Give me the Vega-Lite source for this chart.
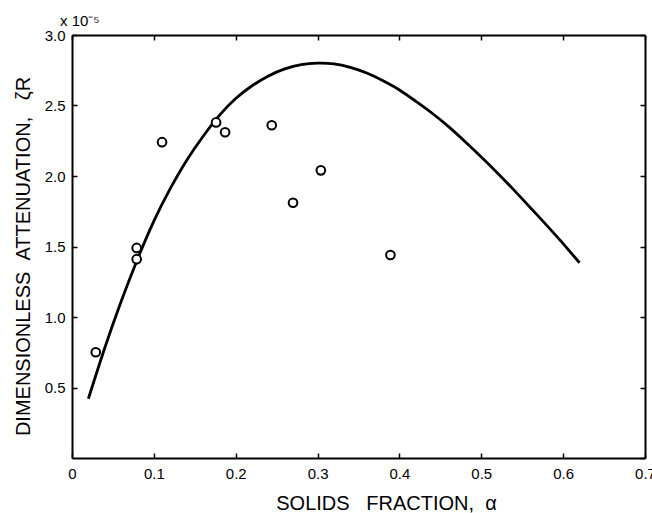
{
  "$schema": "https://vega.github.io/schema/vega-lite/v6.json",
  "width": 573,
  "height": 423,
  "autosize": {"type": "none"},
  "padding": {"left": 72, "top": 35, "right": 7, "bottom": 55},
  "background": "white",
  "config": {
    "view": {"stroke": null},
    "font": "Liberation Sans",
    "axis": {
      "domainColor": "black",
      "domainWidth": 2,
      "tickColor": "black",
      "tickWidth": 1.5,
      "tickSize": -5,
      "labelColor": "black",
      "titleColor": "black",
      "labelFont": "Liberation Sans",
      "titleFont": "Liberation Sans",
      "labelFontSize": 15,
      "titleFontSize": 20,
      "titleFontWeight": "normal",
      "grid": false
    }
  },
  "title": {
    "text": "x 10⁻⁵",
    "anchor": "start",
    "frame": "group",
    "dx": -12,
    "dy": 2,
    "offset": 1,
    "fontSize": 15,
    "fontWeight": "normal",
    "font": "Liberation Sans",
    "color": "black"
  },
  "datasets": {
    "curve": [
      {"alpha": 0.02, "zr": 0.42},
      {"alpha": 0.04, "zr": 0.78},
      {"alpha": 0.06, "zr": 1.11},
      {"alpha": 0.08, "zr": 1.41},
      {"alpha": 0.10, "zr": 1.68},
      {"alpha": 0.12, "zr": 1.91},
      {"alpha": 0.14, "zr": 2.11},
      {"alpha": 0.16, "zr": 2.28},
      {"alpha": 0.18, "zr": 2.43},
      {"alpha": 0.20, "zr": 2.55},
      {"alpha": 0.22, "zr": 2.64},
      {"alpha": 0.24, "zr": 2.71},
      {"alpha": 0.26, "zr": 2.76},
      {"alpha": 0.28, "zr": 2.79},
      {"alpha": 0.30, "zr": 2.80},
      {"alpha": 0.32, "zr": 2.795},
      {"alpha": 0.34, "zr": 2.77},
      {"alpha": 0.36, "zr": 2.73},
      {"alpha": 0.38, "zr": 2.675},
      {"alpha": 0.40, "zr": 2.61},
      {"alpha": 0.42, "zr": 2.53},
      {"alpha": 0.44, "zr": 2.445},
      {"alpha": 0.46, "zr": 2.35},
      {"alpha": 0.48, "zr": 2.245},
      {"alpha": 0.50, "zr": 2.135},
      {"alpha": 0.52, "zr": 2.02},
      {"alpha": 0.54, "zr": 1.90},
      {"alpha": 0.56, "zr": 1.775},
      {"alpha": 0.58, "zr": 1.65},
      {"alpha": 0.60, "zr": 1.52},
      {"alpha": 0.62, "zr": 1.385}
    ],
    "points": [
      {"alpha": 0.029, "zr": 0.75},
      {"alpha": 0.079, "zr": 1.49},
      {"alpha": 0.079, "zr": 1.41},
      {"alpha": 0.110, "zr": 2.24},
      {"alpha": 0.176, "zr": 2.38},
      {"alpha": 0.187, "zr": 2.31},
      {"alpha": 0.244, "zr": 2.36},
      {"alpha": 0.270, "zr": 1.81},
      {"alpha": 0.304, "zr": 2.04},
      {"alpha": 0.389, "zr": 1.44}
    ]
  },
  "layer": [
    {
      "data": {"name": "curve"},
      "mark": {"type": "line", "color": "black", "strokeWidth": 2.8, "interpolate": "natural"},
      "encoding": {
        "x": {
          "field": "alpha", "type": "quantitative",
          "scale": {"domain": [0, 0.7], "nice": false, "zero": false},
          "axis": {
            "orient": "bottom",
            "values": [0, 0.1, 0.2, 0.3, 0.4, 0.5, 0.6, 0.7],
            "format": ".1~f",
            "labelPadding": 13,
            "title": "SOLIDS \u00a0\u00a0FRACTION, \u00a0α",
            "titlePadding": 12,
            "titleX": 314,
            "labelFlush": false,
            "labelOverlap": false
          }
        },
        "y": {
          "field": "zr", "type": "quantitative",
          "scale": {"domain": [0, 3.0], "nice": false, "zero": false},
          "axis": {
            "orient": "left",
            "values": [0.5, 1.0, 1.5, 2.0, 2.5, 3.0],
            "format": ".1f",
            "labelPadding": 12,
            "title": "DIMENSIONLESS \u00a0ATTENUATION, \u00a0\u00a0ζR",
            "titlePadding": 11,
            "titleY": 221,
            "labelFlush": false,
            "labelOverlap": false
          }
        }
      }
    },
    {
      "data": {"name": "points"},
      "mark": {"type": "point", "shape": "circle", "filled": false, "fill": "white", "fillOpacity": 1, "stroke": "black", "strokeWidth": 2, "size": 75, "opacity": 1},
      "encoding": {
        "x": {
          "field": "alpha", "type": "quantitative",
          "scale": {"domain": [0, 0.7], "nice": false, "zero": false},
          "axis": {
            "orient": "top",
            "values": [0, 0.1, 0.2, 0.3, 0.4, 0.5, 0.6, 0.7],
            "labels": false,
            "title": null
          }
        },
        "y": {
          "field": "zr", "type": "quantitative",
          "scale": {"domain": [0, 3.0], "nice": false, "zero": false},
          "axis": {
            "orient": "right",
            "values": [0, 0.5, 1.0, 1.5, 2.0, 2.5, 3.0],
            "labels": false,
            "title": null
          }
        }
      }
    }
  ],
  "resolve": {"axis": {"x": "independent", "y": "independent"}}
}
